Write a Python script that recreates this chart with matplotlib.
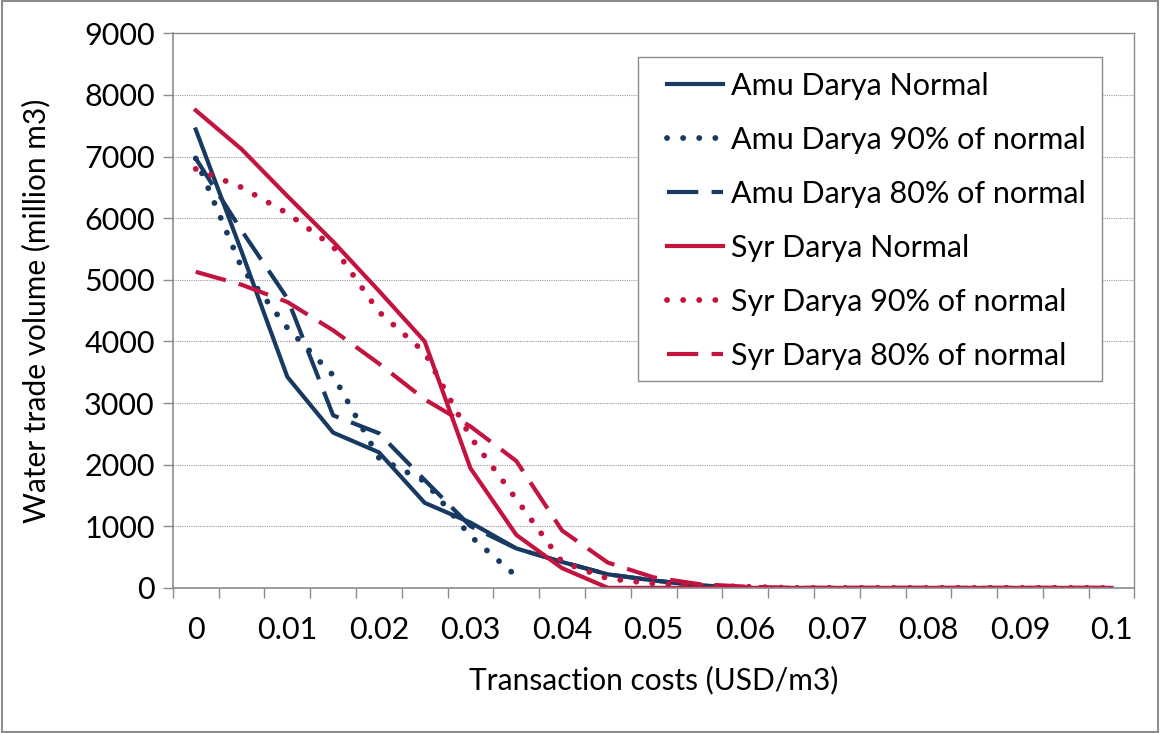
import numpy as np
import matplotlib.pyplot as plt
from matplotlib.patches import Rectangle

plt.rcParams['font.family'] = ['Lato', 'DejaVu Sans']

nan = np.nan

# transaction costs (USD/m3), one category every 0.005
costs = [0, 0.005, 0.01, 0.015, 0.02, 0.025, 0.03, 0.035, 0.04, 0.045, 0.05,
         0.055, 0.06, 0.065, 0.07, 0.075, 0.08, 0.085, 0.09, 0.095, 0.1]
tick_labels = ['0', '0.01', '0.02', '0.03', '0.04', '0.05', '0.06', '0.07', '0.08', '0.09', '0.1']

# water trade volume (million m3)
amu_normal = [7440, 5460, 3425, 2520, 2200, 1380, 1060, 640, 420, 220, 120, 40, 0,
              nan, nan, nan, nan, nan, nan, nan, nan]
amu_90 = [6970, 5200, 4220, 3450, 2110, 1730, 840, 190,
          nan, nan, nan, nan, nan, nan, nan, nan, nan, nan, nan, nan, nan]
amu_80 = [6970, 5800, 4700, 2800, 2510, 1750, 1000, 640, 420, 220, 120, 40, 0,
          nan, nan, nan, nan, nan, nan, nan, nan]
syr_normal = [7750, 7120, 6360, 5620, 4820, 4000, 1940, 860, 320, 0, 0,
              0, 0, 0, 0, 0, 0, 0, 0, 0, 0]
syr_90 = [6800, 6500, 6080, 5540, 4480, 3820, 2450, 1440, 420, 150, 70,
          40, 20, 0, 0, 0, 0, 0, 0, 0, 0]
syr_80 = [5130, 4920, 4640, 4180, 3640, 3060, 2620, 2060, 930, 410, 170,
          60, 20, 0, 0, 0, 0, 0, 0, 0, 0]

navy = '#183a62'
red = '#c3143f'

fig = plt.figure(figsize=(11.6, 7.33), dpi=100)
ax = fig.add_axes([0.149, 0.198, 0.829, 0.7565])

lw = 3.0
dot_lw = 4.2
dotted = (0, (0.01, 2.75))
dashed = (0, (7.5, 3.2))

series = [
    (amu_normal, navy, '-', 'Amu Darya Normal'),
    (amu_90, navy, dotted, 'Amu Darya 90% of normal'),
    (amu_80, navy, dashed, 'Amu Darya 80% of normal'),
    (syr_normal, red, '-', 'Syr Darya Normal'),
    (syr_90, red, dotted, 'Syr Darya 90% of normal'),
    (syr_80, red, dashed, 'Syr Darya 80% of normal'),
]
for vals, col, ls, name in series:
    width = dot_lw if ls == dotted else lw
    line, = ax.plot(costs, vals, color=col, linestyle=ls, linewidth=width, label=name,
                    solid_joinstyle='round')
    if ls == dotted:
        line.set_dash_capstyle('round')

ax.set_xlim(-0.0025, 0.1025)
ax.set_ylim(0, 9000)
ax.set_yticks(np.arange(0, 9001, 1000))
ax.set_xticks(costs[::2])
ax.set_xticklabels(tick_labels)
ax.set_xticks(np.arange(-0.0025, 0.103, 0.005), minor=True)
ax.tick_params(axis='x', which='major', length=0, pad=20, labelsize=22)
ax.tick_params(axis='x', which='minor', length=7, width=1, color='#8c8c8c')
ax.tick_params(axis='y', length=7, width=1, color='#8c8c8c', labelsize=22, pad=6)

ax.grid(axis='y', color='#9a9a9a', linestyle=(0, (1, 1)), linewidth=0.8)
ax.set_axisbelow(True)
for s in ['top', 'right']:
    ax.spines[s].set_color('#8c8c8c')
    ax.spines[s].set_linewidth(1.0)
for s in ['left', 'bottom']:
    ax.spines[s].set_color('#8c8c8c')
    ax.spines[s].set_linewidth(1.2)

ax.set_xlabel('Transaction costs (USD/m3)', fontsize=21.5, labelpad=16)
ax.set_ylabel('Water trade volume (million m3)', fontsize=21.5, labelpad=24)

# legend box drawn separately so the entries sit with Excel-like padding
ax.add_patch(Rectangle((0.4834, 0.373), 0.4833, 0.5844, transform=ax.transAxes,
                       facecolor='white', edgecolor='#8c8c8c', linewidth=1.0, zorder=4))
leg = ax.legend(loc='upper left', bbox_to_anchor=(0.504, 0.947), fontsize=22,
                frameon=False, handlelength=1.85, handletextpad=0.25,
                labelspacing=0.85, borderpad=0.3, borderaxespad=0)
leg.set_zorder(5)

# outer chart border
fig.patches.append(Rectangle((0.002, 0.002), 0.996, 0.996, transform=fig.transFigure,
                             fill=False, edgecolor='#8c8c8c', linewidth=1.5))

fig.savefig('out.png', dpi=100)
